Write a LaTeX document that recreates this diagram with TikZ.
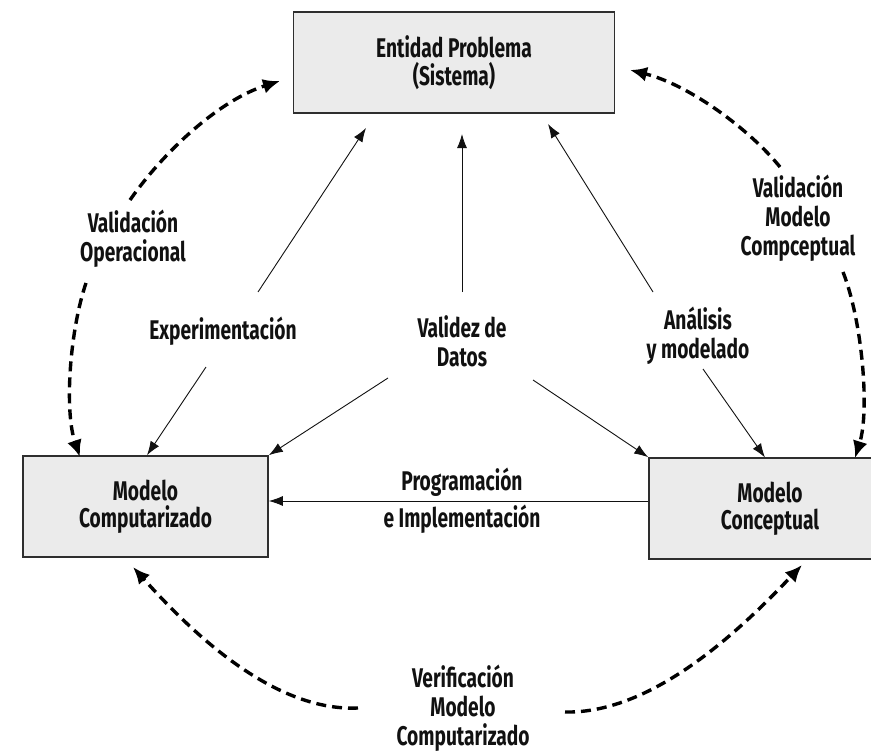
\documentclass[tikz,border=0pt]{standalone}
\usepackage{fontspec}
\setmainfont{Fira Sans}[FakeStretch=0.71]
\usetikzlibrary{arrows.meta}
\definecolor{boxfill}{HTML}{EBEBEB}
\definecolor{boxline}{HTML}{2E2E2E}
\definecolor{ink}{HTML}{111111}
\tikzset{
  block/.style={draw=boxline, line width=1.6pt, fill=boxfill, minimum height=101pt,
    align=center, font=\fontsize{27}{27.5}\selectfont\bfseries, text=ink, inner sep=0pt},
  lbl/.style={align=center, font=\fontsize{27}{29}\selectfont\bfseries, text=ink, inner sep=0pt},
  flow/.style={draw=ink, line width=0.9pt, -{Latex[length=14pt,width=10pt]}},
  loop/.style={draw=black, line width=3.4pt, dash pattern=on 10pt off 6pt,
    -{Latex[length=17pt,width=15pt]}}
}
\begin{document}
\begin{tikzpicture}[x=1pt,y=-1pt]
\useasboundingbox (0,0) rectangle (871,752);

% the three boxes
\node[block, minimum width=321pt] (sys) at (454,62.5) {Entidad Problema\\(Sistema)};
\node[block, minimum width=245pt] (comp) at (145.5,506.5) {Modelo\\Computarizado};
\node[block, minimum width=242pt] (conc) at (770,508.5) {Modelo\\Conceptual};

% labels of the inner activities
\node[lbl] (exp) at (223,331) {Experimentación};
\node[lbl] (dat) at (462,341) {Validez de\\Datos};
\node[lbl] (ana) at (698,336) {Análisis\\y modelado};
\node[lbl] (prog) at (462,501) {Programación\\[8pt]e Implementación};

% labels of the outer loops
\node[lbl] (vop) at (133,239) {Validación\\Operacional};
\node[lbl] (vmc) at (798,218) {Validación\\Modelo\\Compceptual};
\node[lbl] (ver) at (463,708) {Verificación\\Modelo\\Computarizado};

% end points of the inner connectors
\coordinate (expU) at (258,292);
\coordinate (expD) at (206,367);
\coordinate (datU) at (462,292);
\coordinate (datL) at (388,378);
\coordinate (datR) at (533,380);
\coordinate (anaU) at (653,292);
\coordinate (anaD) at (703,369);
\coordinate (tipExp) at (366,128);
\coordinate (tipDat) at (462,134);
\coordinate (tipAna) at (548,124);

\draw[flow] (expU) -- (tipExp);
\draw[flow] (datU) -- (tipDat);
\draw[flow] (anaU) -- (tipAna);
\draw[flow] (expD) -- (comp.north west -| 147,0);
\draw[flow] (datL) -- (comp.north east);
\draw[flow] (datR) -- (conc.north west);
\draw[flow] (anaD) -- (765,457.5);
\draw[flow] (conc.west |- 0,501) -- (comp.east |- 0,501);

% outer dashed loops
\coordinate (a1) at (130,200);  \coordinate (a1t) at (280,81);
\coordinate (a2) at (86,283);   \coordinate (a2t) at (80,457);
\coordinate (b1) at (780,167);  \coordinate (b1t) at (630,70);
\coordinate (b2) at (843,272);  \coordinate (b2t) at (855,458);
\coordinate (c1) at (358,708);  \coordinate (c1t) at (133,567);
\coordinate (c2) at (565,712);  \coordinate (c2t) at (802,565);

\draw[loop] (a1) .. controls (165,150) and (220,100) .. (a1t);
\draw[loop] (a2) .. controls (70,330) and (64,410) .. (a2t);
\draw[loop] (b1) .. controls (750,130) and (690,85) .. (b1t);
\draw[loop] (b2) .. controls (862,320) and (870,410) .. (b2t);
\draw[loop] (c1) .. controls (270,712) and (185,625) .. (c1t);
\draw[loop] (c2) .. controls (655,714) and (745,625) .. (c2t);
\end{tikzpicture}
\end{document}
